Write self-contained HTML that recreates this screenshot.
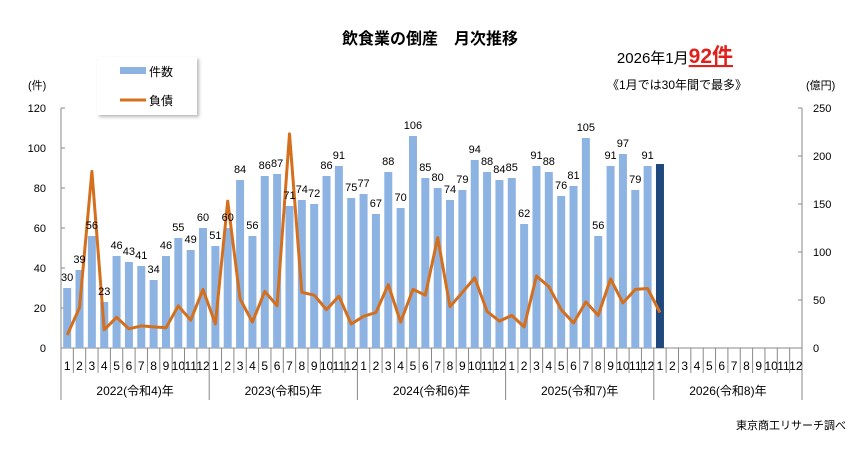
<!DOCTYPE html>
<html><head><meta charset="utf-8"><style>
body{margin:0;background:#fff;}
svg text{font-family:"Liberation Sans","Noto Sans CJK JP",sans-serif;}
</style></head><body>
<svg id="c" width="865" height="444" viewBox="0 0 865 444" xmlns="http://www.w3.org/2000/svg">
<defs><filter id="sh" x="-10%" y="-10%" width="130%" height="140%"><feDropShadow dx="2" dy="2" stdDeviation="1.5" flood-color="#888" flood-opacity="0.6"/></filter></defs>
<text x="430" y="44" text-anchor="middle" font-size="16" font-weight="bold" fill="#000">飲食業の倒産　月次推移</text>
<text x="733" y="63" text-anchor="end" font-size="15" fill="#000">2026年1月<tspan fill="#e0201a" font-size="21" font-weight="bold" text-decoration="underline">92件</tspan></text>
<text x="677" y="89" text-anchor="middle" font-size="12" fill="#000">《1月では30年間で最多》</text>
<text x="28" y="89" font-size="11" fill="#000">(件)</text>
<text x="806" y="89" font-size="11" fill="#000">(億円)</text>
<g>
<rect x="97" y="57" width="100" height="58" fill="#fff" filter="url(#sh)"/>
<rect x="120" y="67" width="26" height="7" fill="#8db3e2"/>
<text x="149" y="76" font-size="12">件数</text>
<line x1="120" y1="100" x2="146" y2="100" stroke="#d46f1e" stroke-width="3"/>
<text x="149" y="105" font-size="12">負債</text>
</g>
<g id="plot"></g>
<text x="846" y="429" text-anchor="end" font-size="11" fill="#000">東京商工リサーチ調べ</text>
</svg>
<script>
const counts=[30,39,56,23,46,43,41,34,46,55,49,60,51,60,84,56,86,87,71,74,72,86,91,75,77,67,88,70,106,85,80,74,79,94,88,84,85,62,91,88,76,81,105,56,91,97,79,91,92];
const debts=[13.5,42,184,19,32,20,23,22,21,44,29,61,25,153,51,27,59,44,223,58,55,40,54,25,33,37,66,27,61,55,115,43,58,73,38,28,34,22,75,64,40,26,48,34,72,47,61,62,37];
const years=["2022(令和4)年","2023(令和5)年","2024(令和6)年","2025(令和7)年","2026(令和8)年"];
const leftTicks=[0,20,40,60,80,100,120];
const rightTicks=[0,50,100,150,200,250];
const NS="http://www.w3.org/2000/svg";
const g=document.getElementById('plot');
const X0=61,X1=802,Y0=348,Y1=108,N=60,slot=(X1-X0)/N;
const yL=v=>Y0-(v/120)*(Y0-Y1);
const yR=v=>Y0-(v/250)*(Y0-Y1);
const xc=i=>X0+slot*(i+0.5);
function mk(t,a){const e=document.createElementNS(NS,t);for(const k in a)e.setAttribute(k,a[k]);g.appendChild(e);return e;}
let e;
e=mk('line',{x1:X0,y1:Y1,x2:X0,y2:400,stroke:'#888'});


e=mk('line',{x1:X1,y1:Y1,x2:X1,y2:400,stroke:'#888'});


e=mk('line',{x1:X0,y1:Y0,x2:X1,y2:Y0,stroke:'#888'});


leftTicks.forEach(v=>{mk('line',{x1:X0,y1:yL(v),x2:X0+4,y2:yL(v),stroke:'#888'});
e=mk('text',{x:46,y:yL(v)+4,'text-anchor':'end','font-size':11});e.textContent=v;

});
rightTicks.forEach(v=>{mk('line',{x1:X1-4,y1:yR(v),x2:X1,y2:yR(v),stroke:'#888'});
e=mk('text',{x:813,y:yR(v)+4,'font-size':11});e.textContent=v;

});
for(let i=0;i<N;i++){
 const xl=X0+slot*i;
 mk('line',{x1:xl,y1:Y0,x2:xl,y2:i%12==0?400:373,stroke:'#888'});
 e=mk('text',{x:xc(i),y:370,'text-anchor':'middle','font-size':12});e.textContent=(i%12)+1;
 
 
}
years.forEach((y,k)=>{e=mk('text',{x:X0+slot*(12*k+6),y:395,'text-anchor':'middle','font-size':12});e.textContent=y;

});
const bw=8;
counts.forEach((v,i)=>{
 const last=i==counts.length-1;
 e=mk('rect',{x:xc(i)-bw/2,y:yL(v),width:bw,height:Y0-yL(v),fill:last?'#1f497d':'#8db3e2'});
 
 
});
let d='';debts.forEach((v,i)=>{d+=(i?'L':'M')+xc(i).toFixed(1)+' '+yR(v).toFixed(1);});
e=mk('path',{d:d,fill:'none',stroke:'#d46f1e','stroke-width':3,'stroke-linejoin':'round'});


counts.forEach((v,i)=>{
 if(i==counts.length-1)return;
 e=mk('text',{x:xc(i),y:yL(v)-7,'text-anchor':'middle','font-size':11});e.textContent=v;
 
 
});
</script>
</body></html>
